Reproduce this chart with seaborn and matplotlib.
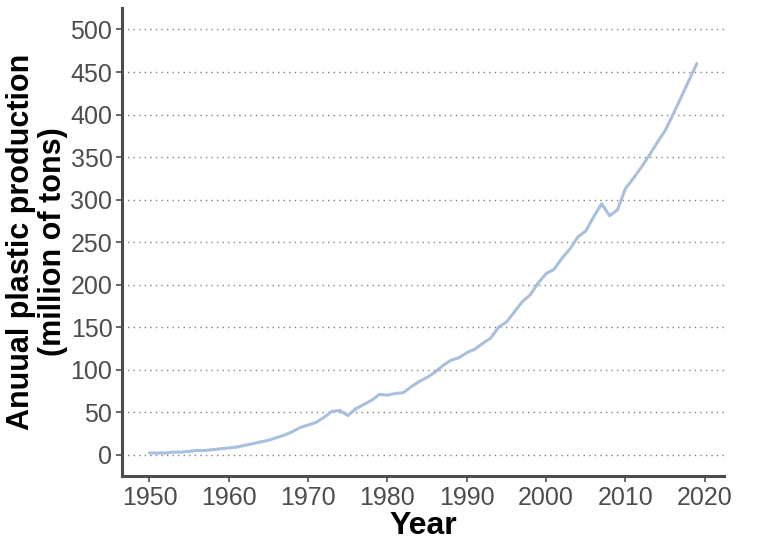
import matplotlib
matplotlib.use("Agg")
import matplotlib.pyplot as plt
import pandas as pd
import seaborn as sns

years = list(range(1950, 2020))
production = [
    2, 2, 2, 3, 3, 4, 5, 5, 6, 7,
    8, 9, 11, 13, 15, 17, 20, 23, 27, 32,
    35, 38, 44, 51, 52, 46, 54, 59, 64, 71,
    70, 72, 73, 80, 86, 91, 97, 105, 111, 114,
    120, 124, 131, 137, 150, 156, 168, 180, 188, 202,
    213, 218, 231, 242, 256, 263, 280, 295, 281, 288,
    313, 325, 338, 352, 367, 381, 400, 420, 440, 460,
]
x_ticks = list(range(1950, 2030, 10))
y_ticks = list(range(0, 550, 50))

df = pd.DataFrame({"year": years, "production": production})

sns.set_style("white")
plt.rcParams["font.family"] = ["Liberation Sans", "DejaVu Sans"]

fig = plt.figure(figsize=(7.68, 5.49), dpi=100)
ax = fig.add_axes([0.159, 0.133, 0.784, 0.852])

sns.lineplot(data=df, x="year", y="production", ax=ax, color="#a9bfde", linewidth=2.2)

ax.set_xlim(1946.55, 2022.45)
ax.set_ylim(-25, 525)
ax.set_xticks(x_ticks)
ax.set_yticks(y_ticks)
ax.yaxis.grid(True, linestyle=(0, (1, 3)), color="#808080", linewidth=1)
ax.xaxis.grid(False)
ax.set_axisbelow(True)

for side in ("top", "right"):
    ax.spines[side].set_visible(False)
for side in ("left", "bottom"):
    ax.spines[side].set_color("#4d4d4d")
    ax.spines[side].set_linewidth(2.2)

ax.tick_params(axis="both", which="major", length=4, width=1.2, color="#4d4d4d",
               labelsize=18, labelcolor="#4d4d4d", direction="out", left=True, bottom=True,
               pad=3)

ax.set_xlabel("Year", fontsize=23, fontweight="bold", color="black", labelpad=1)
ax.set_ylabel("Anuual plastic production\n(million of tons)", fontsize=22, fontweight="bold",
              color="black", labelpad=2, linespacing=1.05)

fig.savefig("out.png", dpi=100)
